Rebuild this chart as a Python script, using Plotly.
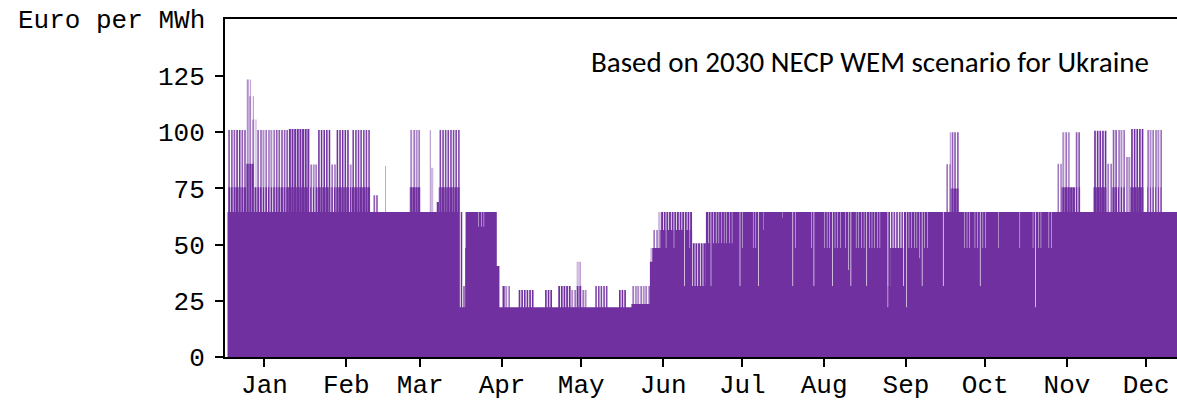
import numpy as np
import pandas as pd
import plotly.graph_objects as go

# ---- Hourly wholesale price, 2030 (Euro per MWh) ----
# Base price level per day: each level holds from its start day (day of year, 0 = 1 Jan)
floor_start = [0, 88, 90, 102, 103, 153, 160, 161, 164, 176, 181, 186]
floor_level = [64.5, 22.1, 64.5, 40.5, 22.1, 23.6, 42.4, 48.5, 56.5, 31.6, 50.6, 64.5]

# Price rises: days [start, end), level reached, hours per day at that level
rise_start = [0, 0, 3, 3, 5, 5, 7, 7, 8, 8, 9, 9, 10, 10, 11, 11, 13, 13, 18, 18,
              23, 23, 31, 31, 34, 34, 39, 39, 41, 41, 46, 46, 47, 47, 55, 59,
              69, 69, 76, 77, 79, 80, 80, 88, 89,
              104, 105, 110, 120, 125, 130, 132, 132, 134, 139, 148, 153,
              160, 161, 163, 164, 176, 181,
              272, 273, 274, 274,
              314, 316, 316, 319, 321, 321, 328, 328, 333, 335, 335, 337, 337,
              340, 342, 342, 348, 348]
rise_end = [3, 3, 5, 5, 7, 7, 10, 8, 9, 9, 10, 10, 11, 11, 13, 13, 18, 18, 23, 23,
            31, 31, 34, 34, 39, 39, 41, 41, 46, 46, 47, 47, 54, 54, 57, 60,
            73, 73, 77, 78, 80, 88, 88, 89, 90,
            105, 107, 116, 123, 130, 132, 134, 134, 136, 144, 151, 160,
            161, 164, 164, 176, 181, 186,
            274, 274, 277, 277,
            316, 319, 319, 321, 323, 323, 333, 333, 335, 337, 337, 340, 340,
            342, 347, 347, 354, 354]
rise_level = [75.5, 101, 75.5, 101, 75.5, 101, 86, 123.5, 123.5, 116, 116, 105.7, 105.7, 75.5,
              75.5, 101, 75.5, 101, 75.5, 101,
              75.5, 101.4, 75.5, 85.7, 75.5, 101, 75.5, 85.7, 75.5, 101, 75.5, 85.7, 75.5, 101,
              72, 85,
              75.5, 101, 101, 84.2, 69, 75.5, 101, 64.5, 31.6,
              31.6, 31.6, 29.8, 29.8, 31.6, 29.8, 31.6, 42.4, 29.8, 31.6, 29.8, 31.6,
              48.5, 56.5, 64.5, 64.5, 50.6, 64.5,
              85.8, 100, 75, 100,
              86, 75.5, 100, 75.5, 75.5, 100, 75.5, 100.7, 86, 75.5, 101, 75.5, 101,
              89, 75.5, 101.4, 75.5, 101]
rise_hours = [18, 12, 21, 14, 20, 12, 21, 10, 5, 10, 5, 10, 5, 19, 18, 11, 16, 10, 19, 12,
              23, 18, 15, 10, 22, 14, 15, 10, 22, 14, 15, 10, 22, 13, 12, 4,
              22, 10, 5, 7, 18, 22, 13, 14, 12,
              20, 10, 15, 15, 16, 10, 18, 7, 10, 13, 15, 10,
              8, 10, 8, 17, 17, 19,
              10, 5, 22, 12,
              9, 22, 10, 22, 16, 12, 23, 15, 10, 21, 12, 15, 10,
              10, 23, 15, 13, 10]

# Price drops: days [start, end), level reached, hours per day at that level
dip_start = [90, 95, 166, 169, 173, 175, 183, 186, 194, 195, 199, 201, 203, 210,
             214, 215, 221, 222, 226, 229, 230, 234, 235, 236, 238, 242, 243,
             250, 250, 251, 256, 257, 258, 262, 263, 264, 271,
             279, 283, 285, 286, 292, 300, 305, 306, 307, 311]
dip_end = [91, 98, 167, 170, 174, 176, 184, 192, 195, 196, 201, 202, 204, 211,
           215, 216, 222, 223, 229, 230, 233, 235, 236, 237, 242, 243, 248,
           251, 251, 256, 257, 258, 262, 263, 264, 266, 272,
           282, 285, 286, 288, 293, 301, 306, 307, 309, 313]
dip_level = [48.5, 58, 48.5, 48.5, 31.6, 48.5, 31.6, 50.6, 31.6, 48.5, 48.5, 31.6, 56.5, 62,
             31.6, 48.5, 48.5, 31.6, 48.5, 31.6, 48.5, 48.5, 38.7, 31.6, 48.5, 31.6, 48.5,
             22.1, 31.6, 48.5, 31.6, 22.1, 48.5, 43.9, 31.6, 48.5, 31.6,
             48.5, 48.5, 31.6, 48.5, 48.5, 48.5, 48.5, 22.1, 48.5, 48.5]
dip_hours = [4, 4, 4, 4, 6, 4, 5, 4, 6, 4, 4, 6, 3, 3,
             6, 4, 4, 6, 4, 6, 4, 4, 5, 6, 4, 6, 4,
             5, 8, 10, 6, 6, 4, 4, 6, 4, 6,
             4, 4, 6, 4, 4, 4, 4, 6, 4, 4]

# Order in which hours of a day reach peak prices, and lowest-demand hours
peak_hour_order = [18, 19, 17, 20, 9, 8, 10, 21, 16, 11, 12, 13, 15, 14, 7, 22, 6, 23, 5, 0, 1, 4, 2, 3]
low_hour_order = [3, 2, 4, 1, 5, 0, 23, 6, 22, 14, 13, 12, 15, 11, 7, 21, 16, 10, 20, 9, 17, 8, 19, 18]

month_labels = ["Jan", "Feb", "Mar", "Apr", "May", "Jun", "Jul", "Aug", "Sep", "Oct", "Nov", "Dec"]

# ---- Build the hourly series ----
n_days = 365
price = np.zeros(n_days * 24)
ends = floor_start[1:] + [n_days]
for s, e, v in zip(floor_start, ends, floor_level):
    price[s * 24:e * 24] = v
for s, e, lvl, n in zip(rise_start, rise_end, rise_level, rise_hours):
    hrs = np.array(peak_hour_order[:n])
    for d in range(s, e):
        idx = d * 24 + hrs
        price[idx] = np.maximum(price[idx], lvl)
for s, e, lvl, n in zip(dip_start, dip_end, dip_level, dip_hours):
    hrs = np.array(low_hour_order[:n])
    for d in range(s, e):
        idx = d * 24 + hrs
        price[idx] = np.minimum(price[idx], lvl)

times = pd.date_range("2030-01-01", periods=n_days * 24, freq="h")
purple = "#7030A0"

fig = go.Figure()
fig.add_trace(go.Scatter(
    x=times, y=price, mode="lines",
    line=dict(shape="hv", width=0, color=purple, simplify=False),
    fill="tozeroy", fillcolor=purple, hoverinfo="skip", showlegend=False,
))

mono = "Courier New, Liberation Mono, monospace"
tick_dates = [f"2030-{m:02d}-15" for m in range(1, 13)]

fig.update_layout(
    width=1177, height=401,
    margin=dict(l=225, r=0, t=19, b=44, autoexpand=False),
    paper_bgcolor="white", plot_bgcolor="white",
    font=dict(family=mono, size=26, color="black"),
    xaxis=dict(
        type="date", range=["2029-12-31 01:12", "2030-12-26 15:50"],
        tickvals=tick_dates, ticktext=month_labels, automargin=False,
        ticks="outside", ticklen=8, tickwidth=2, tickcolor="black",
        showline=True, linecolor="black", linewidth=2, mirror=True,
        showgrid=False, zeroline=False, ticklabelstandoff=-5,
        tickfont=dict(family=mono, size=26, color="black"),
    ),
    yaxis=dict(
        range=[0, 150.4], tickvals=[0, 25, 50, 75, 100, 125], automargin=False,
        ticks="outside", ticklen=8, tickwidth=2, tickcolor="black",
        showline=True, linecolor="black", linewidth=2,
        showgrid=False, zeroline=False, ticklabelstandoff=5,
        tickfont=dict(family=mono, size=26, color="black"),
    ),
    annotations=[
        dict(text="Euro per MWh", xref="paper", yref="paper",
             x=-18 / 952, y=(357 - 21) / 338, xanchor="right", yanchor="middle",
             showarrow=False, font=dict(family=mono, size=26, color="black")),
        dict(text="Based on 2030 NECP WEM scenario for Ukraine", xref="paper", yref="paper",
             x=(870 - 225) / 952, y=(357 - 62) / 338, xanchor="center", yanchor="middle",
             showarrow=False, font=dict(family="Carlito, Lato, sans-serif", size=29, color="black")),
    ],
)

fig.write_html("out.html")
